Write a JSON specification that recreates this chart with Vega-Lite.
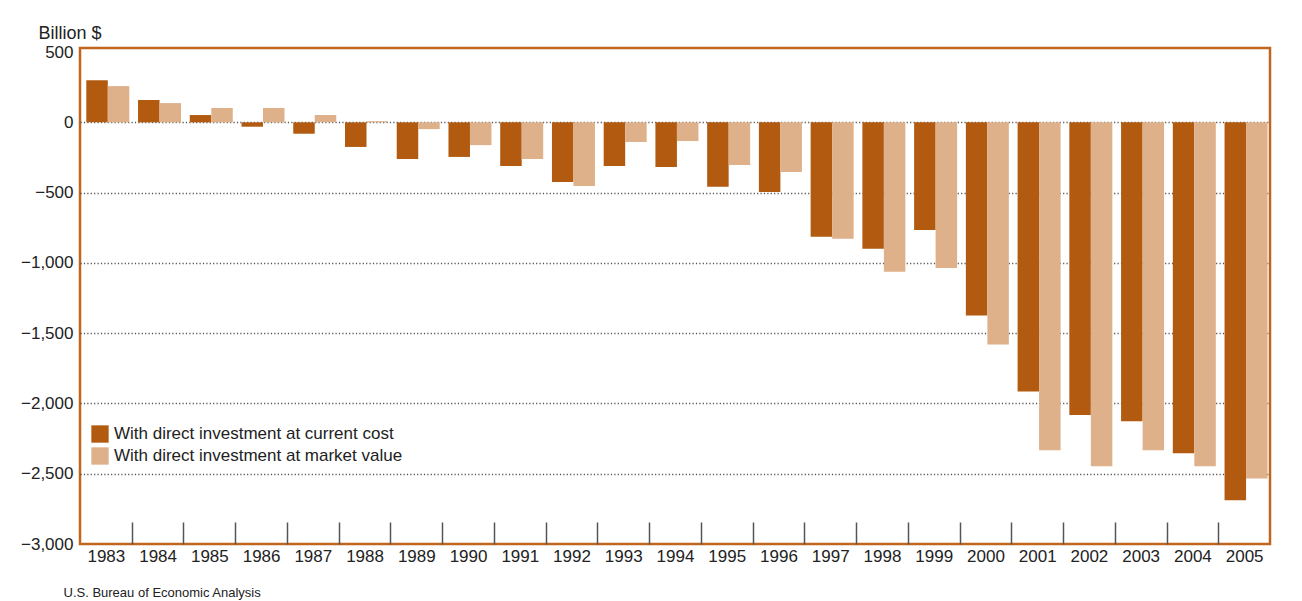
{
  "$schema": "https://vega.github.io/schema/vega-lite/v6.json",
  "width": 1190,
  "height": 496,
  "autosize": {"type": "none"},
  "padding": {"left": 80, "top": 48, "right": 32, "bottom": 57},
  "background": "white",
  "config": {
    "font": "Liberation Sans",
    "view": {"stroke": "#C0651E", "strokeWidth": 2.5},
    "axis": {"labelFont": "Liberation Sans", "titleFont": "Liberation Sans", "labelColor": "#222", "titleColor": "#222"}
  },
  "data": {
    "values": [
      {"year": "1983", "series": "With direct investment at current cost", "value": 300},
      {"year": "1983", "series": "With direct investment at market value", "value": 258},
      {"year": "1984", "series": "With direct investment at current cost", "value": 159},
      {"year": "1984", "series": "With direct investment at market value", "value": 137},
      {"year": "1985", "series": "With direct investment at current cost", "value": 52},
      {"year": "1985", "series": "With direct investment at market value", "value": 102},
      {"year": "1986", "series": "With direct investment at current cost", "value": -31},
      {"year": "1986", "series": "With direct investment at market value", "value": 102},
      {"year": "1987", "series": "With direct investment at current cost", "value": -81},
      {"year": "1987", "series": "With direct investment at market value", "value": 52},
      {"year": "1988", "series": "With direct investment at current cost", "value": -175},
      {"year": "1988", "series": "With direct investment at market value", "value": 8},
      {"year": "1989", "series": "With direct investment at current cost", "value": -261},
      {"year": "1989", "series": "With direct investment at market value", "value": -48},
      {"year": "1990", "series": "With direct investment at current cost", "value": -246},
      {"year": "1990", "series": "With direct investment at market value", "value": -162},
      {"year": "1991", "series": "With direct investment at current cost", "value": -310},
      {"year": "1991", "series": "With direct investment at market value", "value": -261},
      {"year": "1992", "series": "With direct investment at current cost", "value": -424},
      {"year": "1992", "series": "With direct investment at market value", "value": -452},
      {"year": "1993", "series": "With direct investment at current cost", "value": -310},
      {"year": "1993", "series": "With direct investment at market value", "value": -140},
      {"year": "1994", "series": "With direct investment at current cost", "value": -317},
      {"year": "1994", "series": "With direct investment at market value", "value": -133},
      {"year": "1995", "series": "With direct investment at current cost", "value": -459},
      {"year": "1995", "series": "With direct investment at market value", "value": -303},
      {"year": "1996", "series": "With direct investment at current cost", "value": -496},
      {"year": "1996", "series": "With direct investment at market value", "value": -354},
      {"year": "1997", "series": "With direct investment at current cost", "value": -814},
      {"year": "1997", "series": "With direct investment at market value", "value": -828},
      {"year": "1998", "series": "With direct investment at current cost", "value": -900},
      {"year": "1998", "series": "With direct investment at market value", "value": -1063},
      {"year": "1999", "series": "With direct investment at current cost", "value": -766},
      {"year": "1999", "series": "With direct investment at market value", "value": -1036},
      {"year": "2000", "series": "With direct investment at current cost", "value": -1375},
      {"year": "2000", "series": "With direct investment at market value", "value": -1581},
      {"year": "2001", "series": "With direct investment at current cost", "value": -1915},
      {"year": "2001", "series": "With direct investment at market value", "value": -2333},
      {"year": "2002", "series": "With direct investment at current cost", "value": -2082},
      {"year": "2002", "series": "With direct investment at market value", "value": -2446},
      {"year": "2003", "series": "With direct investment at current cost", "value": -2127},
      {"year": "2003", "series": "With direct investment at market value", "value": -2333},
      {"year": "2004", "series": "With direct investment at current cost", "value": -2354},
      {"year": "2004", "series": "With direct investment at market value", "value": -2446},
      {"year": "2005", "series": "With direct investment at current cost", "value": -2688},
      {"year": "2005", "series": "With direct investment at market value", "value": -2534}
    ]
  },
  "mark": {"type": "bar"},
  "encoding": {
    "x": {
      "field": "year",
      "type": "nominal",
      "sort": null,
      "scale": {"paddingInner": 0, "paddingOuter": 0},
      "axis": {
        "title": "U.S. Bureau of Economic Analysis",
        "titleFontSize": 13,
        "titleFontWeight": "normal",
        "titleAlign": "left",
        "titleAnchor": "start",
        "titleBaseline": "alphabetic",
        "titleX": -17,
        "titleY": 52,
        "labelAngle": 0,
        "labelFontSize": 17,
        "labelPadding": 26,
        "tickOffset": 25.87,
        "labelOffset": -25.87,
        "tickSize": -22,
        "tickColor": "#555",
        "tickWidth": 1.5,
        "tickOpacity": {"condition": {"test": "datum.value == '2005'", "value": 0}, "value": 1},
        "domain": false,
        "grid": false
      }
    },
    "xOffset": {
      "field": "series",
      "type": "nominal",
      "sort": ["With direct investment at current cost", "With direct investment at market value"],
      "scale": {"paddingInner": 0, "paddingOuter": 0.2033, "align": 0.72}
    },
    "y": {
      "field": "value",
      "type": "quantitative",
      "scale": {"domain": [-3000, 529], "nice": false, "zero": false},
      "axis": {
        "title": "Billion $",
        "titleAngle": 0,
        "titleAlign": "left",
        "titleBaseline": "alphabetic",
        "titleX": -42,
        "titleY": -10,
        "titleFontSize": 18,
        "titleFontWeight": "normal",
        "values": [500, 0, -500, -1000, -1500, -2000, -2500, -3000],
        "format": ",.0f",
        "labelFontSize": 17,
        "labelPadding": 7,
        "ticks": false,
        "domain": false,
        "grid": true,
        "gridColor": "#555",
        "gridWidth": 1.3,
        "gridDash": [1.2, 2.2],
        "gridOpacity": {"condition": {"test": "datum.value == 500 || datum.value == -3000", "value": 0}, "value": 1}
      }
    },
    "color": {
      "field": "series",
      "type": "nominal",
      "sort": ["With direct investment at current cost", "With direct investment at market value"],
      "scale": {"domain": ["With direct investment at current cost", "With direct investment at market value"], "range": ["#B15A10", "#DEB18A"]},
      "legend": {
        "title": null,
        "orient": "none",
        "legendX": 11,
        "legendY": 377,
        "padding": 0,
        "symbolType": "square",
        "symbolSize": 300,
        "symbolStrokeWidth": 0,
        "symbolOpacity": 1,
        "labelFontSize": 17,
        "labelColor": "#222",
        "labelOffset": 5,
        "labelLimit": 500,
        "rowPadding": 4
      }
    }
  }
}
